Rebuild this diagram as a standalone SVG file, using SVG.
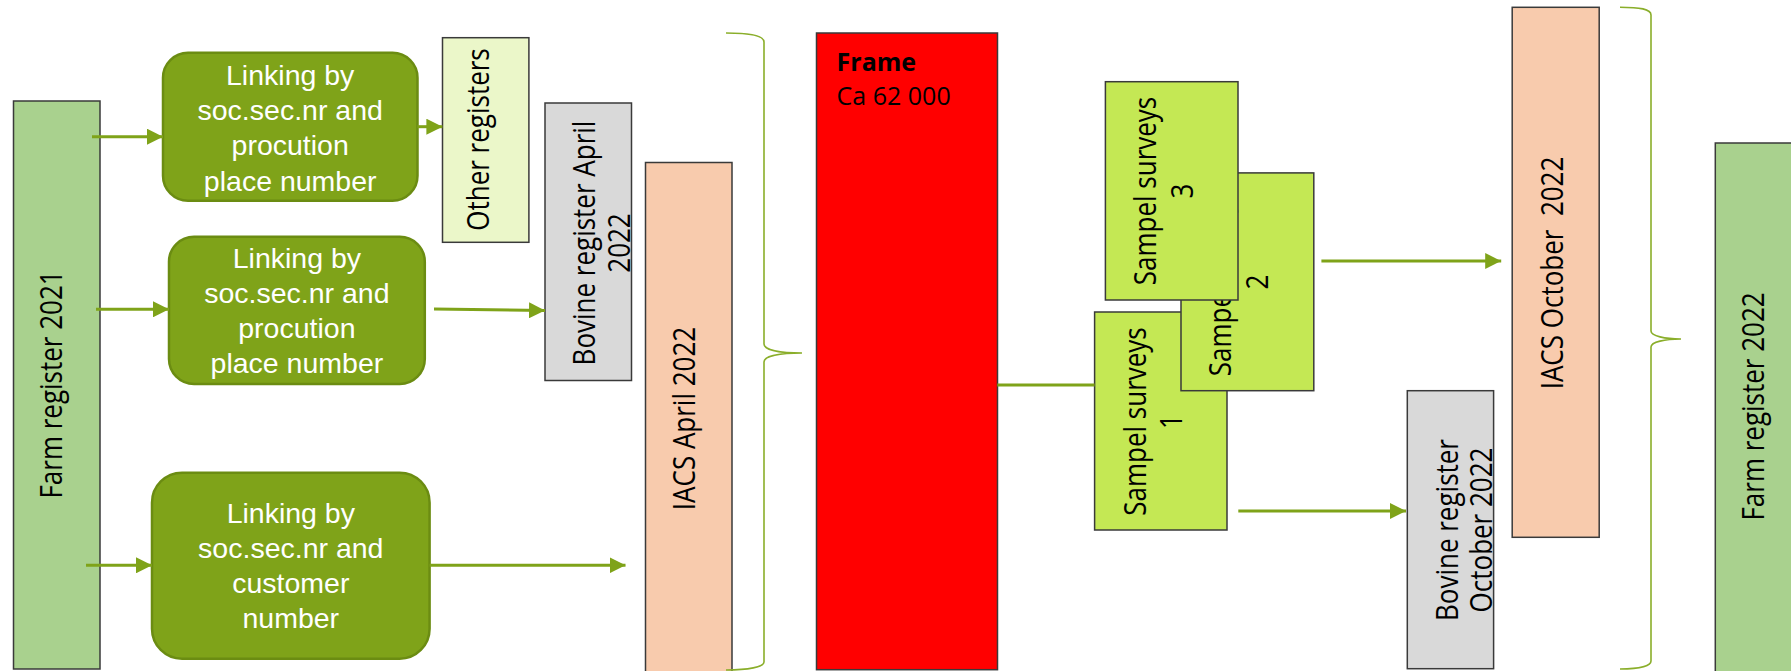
<svg xmlns="http://www.w3.org/2000/svg" width="1791" height="671" viewBox="0 0 1791 671">
<style>
.box{stroke:#3a3a3a;stroke-width:1.5}
.farm{fill:#a9d18e}
.grey{fill:#d9d9d9}
.iacs{fill:#f8cbad}
.other{fill:#ebf7c9}
.survey{fill:#c4e854}
.link{fill:#7fa319;stroke:#6b8c12;stroke-width:2.5}
.lt{font-family:"Liberation Sans",Arial,sans-serif;font-size:28.5px;fill:#ffffff;text-anchor:middle}
.vt{font-family:"Open Sans","Noto Sans",sans-serif;font-size:26px;fill:#000;text-anchor:middle}
.ht{font-family:"Open Sans","Noto Sans",sans-serif;font-size:25px;fill:#000}
.conn{stroke:#7fa319;stroke-width:3;fill:none}
.brace{stroke:#8aae2a;stroke-width:1.6;fill:none}
</style>
<defs>
<marker id="ah" markerUnits="userSpaceOnUse" markerWidth="16" markerHeight="16" refX="16" refY="8" orient="auto">
<path d="M0,0 L16,8 L0,16 z" fill="#7fa319"/>
</marker>
</defs>

<g id="farm2021">
<rect class="box farm" x="13.5" y="101" width="86.5" height="568"/>
<text class="vt" transform="translate(61.7,384.5) rotate(-90) scale(1,1.17)">Farm register 2021</text>
</g>

<g id="linking1">
<rect class="link" x="163" y="52.7" width="254.5" height="148" rx="25" ry="25"/>
<text class="lt" x="290.2" y="85">Linking by</text>
<text class="lt" x="290.2" y="120">soc.sec.nr and</text>
<text class="lt" x="290.2" y="155.3">procution</text>
<text class="lt" x="290.2" y="190.5">place number</text>
</g>

<g id="linking2">
<rect class="link" x="169" y="236.7" width="255.8" height="147.3" rx="25" ry="25"/>
<text class="lt" x="296.9" y="268">Linking by</text>
<text class="lt" x="296.9" y="303">soc.sec.nr and</text>
<text class="lt" x="296.9" y="338">procution</text>
<text class="lt" x="296.9" y="372.5">place number</text>
</g>

<g id="linking3">
<rect class="link" x="152" y="472.7" width="277.6" height="186" rx="30" ry="30"/>
<text class="lt" x="290.8" y="523.3">Linking by</text>
<text class="lt" x="290.8" y="558.3">soc.sec.nr and</text>
<text class="lt" x="290.8" y="593.3">customer</text>
<text class="lt" x="290.8" y="628.3">number</text>
</g>

<g id="other-registers">
<rect class="box other" x="442.5" y="37.7" width="86.4" height="204.6"/>
<text class="vt" transform="translate(489,139.5) rotate(-90) scale(1,1.17)">Other registers</text>
</g>

<g id="bovine-april">
<rect class="box grey" x="545" y="103" width="86.5" height="277.5"/>
<text class="vt" transform="translate(595,243) rotate(-90) scale(1,1.17)">Bovine register April</text>
<text class="vt" transform="translate(630,243) rotate(-90) scale(1,1.17)">2022</text>
</g>

<g id="iacs-april">
<rect class="box iacs" x="645.5" y="162.5" width="86.5" height="520"/>
<text class="vt" transform="translate(695,418.5) rotate(-90) scale(1,1.17)">IACS April 2022</text>
</g>

<g id="frame">
<rect class="box" fill="#ff0000" x="816.5" y="33" width="181" height="636.7"/>
<text class="ht" x="836.6" y="70.5" font-weight="bold">Frame</text>
<text class="ht" x="836.6" y="105">Ca 62 000</text>
</g>

<g id="survey1">
<rect class="box survey" x="1094.6" y="312" width="132.4" height="218"/>
<text class="vt" transform="translate(1145.5,421.5) rotate(-90) scale(1,1.17)">Sampel surveys</text>
<text class="vt" transform="translate(1181.5,421.5) rotate(-90) scale(1,1.17)">1</text>
</g>

<g id="survey2">
<rect class="box survey" x="1181" y="172.9" width="132.8" height="217.8"/>
<text class="vt" transform="translate(1230.5,282) rotate(-90) scale(1,1.17)">Sampel surveys</text>
<text class="vt" transform="translate(1268.3,282) rotate(-90) scale(1,1.17)">2</text>
</g>

<g id="survey3">
<rect class="box survey" x="1105.4" y="81.7" width="132.6" height="218.3"/>
<text class="vt" transform="translate(1155.8,191) rotate(-90) scale(1,1.17)">Sampel surveys</text>
<text class="vt" transform="translate(1193,191) rotate(-90) scale(1,1.17)">3</text>
</g>

<g id="bovine-october">
<rect class="box grey" x="1407.3" y="390.7" width="86.3" height="278"/>
<text class="vt" transform="translate(1457.5,530) rotate(-90) scale(1,1.17)">Bovine register</text>
<text class="vt" transform="translate(1492,530) rotate(-90) scale(1,1.17)">October 2022</text>
</g>

<g id="iacs-october">
<rect class="box iacs" x="1512.2" y="7.3" width="87" height="530"/>
<text class="vt" transform="translate(1563,273) rotate(-90) scale(1,1.17)" xml:space="preserve">IACS October  2022</text>
</g>

<g id="farm2022">
<rect class="box farm" x="1715.3" y="143" width="100" height="540"/>
<text class="vt" transform="translate(1764,406.5) rotate(-90) scale(1,1.17)">Farm register 2022</text>
</g>

<g id="connectors">
<line class="conn" x1="92" y1="136.7" x2="163" y2="136.7" marker-end="url(#ah)"/>
<line class="conn" x1="417.5" y1="126.7" x2="442.4" y2="126.7" marker-end="url(#ah)"/>
<line class="conn" x1="96" y1="309.3" x2="169" y2="309.3" marker-end="url(#ah)"/>
<line class="conn" x1="434" y1="309" x2="545" y2="310.5" marker-end="url(#ah)"/>
<line class="conn" x1="86" y1="565.3" x2="152" y2="565.3" marker-end="url(#ah)"/>
<line class="conn" x1="429.6" y1="565.3" x2="625.5" y2="565.3" marker-end="url(#ah)"/>
<line class="conn" x1="997.3" y1="385" x2="1094.6" y2="385" stroke="#7a9a20"/>
<line class="conn" x1="1321.4" y1="261" x2="1501.2" y2="261" marker-end="url(#ah)"/>
<line class="conn" x1="1238.3" y1="511" x2="1406" y2="511" marker-end="url(#ah)"/>
<path class="brace" d="M726,33 C748,33 764,35 764,42 L764,344 C764,350 780,353 802,353 C780,353 764,356 764,362 L764,662 C764,667 748,670 726,670"/>
<path class="brace" d="M1620,7.3 C1640,7.3 1651,9 1651,15 L1651,331 C1651,336 1665,339 1681,339 C1665,339 1651,342 1651,347 L1651,661 C1651,666 1640,669 1620,669"/>
</g>
</svg>
